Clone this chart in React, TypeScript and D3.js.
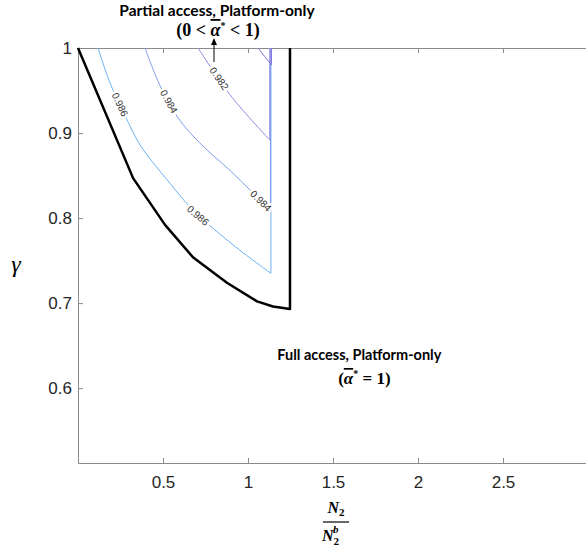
import { useEffect, useRef } from 'react';
import * as d3 from 'd3';

const W = 586;
const H = 554;

// boundary between partial access and full access regions
const boundaryX = [0, 0.324, 0.512, 0.676, 0.876, 1.053, 1.147, 1.247, 1.247];
const boundaryY = [1, 0.847, 0.792, 0.754, 0.724, 0.702, 0.696, 0.693, 1];

// contour levels inside the partial access region (curved part; each closes up to gamma = 1)
const levels = ['0.986', '0.984', '0.982', '0.980'];
const levelColors = ['#6db3f2', '#7f9cf0', '#8f8ae6', '#8b74d8'];
const contourX = [
  [0.118, 0.188, 0.276, 0.365, 0.524, 0.7, 0.794, 0.953, 1.135],
  [0.394, 0.482, 0.588, 0.718, 0.894, 1.012, 1.132],
  [0.706, 0.906, 1.128],
  [1.059, 1.138],
];
const contourY = [
  [1, 0.959, 0.921, 0.886, 0.845, 0.804, 0.788, 0.762, 0.735],
  [1, 0.956, 0.918, 0.888, 0.856, 0.833, 0.809],
  [1, 0.942, 0.892],
  [1, 0.98],
];

// inline contour labels
const labelLevel = [0, 1, 2, 0, 1];
const labelX = [0.247, 0.535, 0.83, 0.706, 1.076];

const xTicks = [0.5, 1, 1.5, 2, 2.5];
const yTicks = [0.6, 0.7, 0.8, 0.9, 1];

const App = () => {
  const svgRef = useRef<SVGSVGElement>(null);

  useEffect(() => {
    const svg = d3.select(svgRef.current);
    svg.selectAll('*').remove();

    const margin = { top: 48, left: 78, bottom: 91 };
    const x = d3.scaleLinear().domain([0, 3]).range([margin.left, 588]);
    const y = d3.scaleLinear().domain([0.512, 1]).range([H - margin.bottom, margin.top]);

    const axisColor = '#8a8a8a';
    const tickFont = '"Liberation Sans", Arial, sans-serif';

    // axes (ticks pointing inward like MATLAB)
    const gx = svg
      .append('g')
      .attr('transform', `translate(0,${y(0.512)})`)
      .call(
        d3.axisBottom(x).tickValues(xTicks).tickFormat((d) => String(d)).tickSizeInner(-5).tickSizeOuter(0).tickPadding(13)
      );
    const gxTop = svg
      .append('g')
      .attr('transform', `translate(0,${y(1)})`)
      .call(d3.axisTop(x).tickValues(xTicks).tickFormat(() => '').tickSizeInner(-5).tickSizeOuter(0));
    const gy = svg
      .append('g')
      .attr('transform', `translate(${x(0)},0)`)
      .call(d3.axisLeft(y).tickValues(yTicks).tickFormat((d) => String(d)).tickSizeInner(-5).tickSizeOuter(0).tickPadding(6));

    [gx, gxTop, gy].forEach((g) => {
      g.select('.domain').attr('stroke', axisColor);
      g.selectAll('.tick line').attr('stroke', axisColor);
      g.selectAll('.tick text').attr('fill', '#262626').style('font-family', tickFont).style('font-size', '17px');
    });

    const line = d3
      .line<[number, number]>()
      .x((d) => x(d[0]))
      .y((d) => y(d[1]));
    const smooth = d3
      .line<[number, number]>()
      .x((d) => x(d[0]))
      .y((d) => y(d[1]))
      .curve(d3.curveCatmullRom.alpha(0.5));

    // contour lines: smooth curve, then straight up the right edge to gamma = 1
    contourX.forEach((xs, i) => {
      const pts = xs.map((v, j) => [v, contourY[i][j]] as [number, number]);
      const last = pts[pts.length - 1];
      svg
        .append('path')
        .attr('d', `${smooth(pts)}L${x(last[0])},${y(1)}`)
        .attr('fill', 'none')
        .attr('stroke', levelColors[i])
        .attr('stroke-width', 1);
    });

    // contour labels, rotated along the line
    labelX.forEach((lx, k) => {
      const i = labelLevel[k];
      const xs = contourX[i];
      const ys = contourY[i];
      let j = 0;
      while (j < xs.length - 2 && xs[j + 1] < lx) j++;
      const t = (lx - xs[j]) / (xs[j + 1] - xs[j]);
      const ly = ys[j] + t * (ys[j + 1] - ys[j]);
      const ang = (Math.atan2(y(ys[j + 1]) - y(ys[j]), x(xs[j + 1]) - x(xs[j])) * 180) / Math.PI;
      svg
        .append('text')
        .attr('transform', `translate(${x(lx)},${y(ly)}) rotate(${ang})`)
        .attr('text-anchor', 'middle')
        .attr('dy', '0.35em')
        .style('font-family', tickFont)
        .style('font-size', '10px')
        .attr('fill', '#333')
        .attr('stroke', '#fff')
        .attr('stroke-width', 5)
        .attr('paint-order', 'stroke')
        .text(levels[i]);
    });

    // region boundary
    svg
      .append('path')
      .attr('d', line(boundaryX.map((v, j) => [v, boundaryY[j]] as [number, number])))
      .attr('fill', 'none')
      .attr('stroke', '#000')
      .attr('stroke-width', 2.5)
      .attr('stroke-linejoin', 'round');

    const annFont = 'Lato, "Open Sans", sans-serif';
    const mathFont = '"Liberation Serif", "DejaVu Serif", serif';

    // top annotation
    const ax = x(0.8);
    svg
      .append('text')
      .attr('x', ax + 3)
      .attr('y', 16)
      .attr('text-anchor', 'middle')
      .style('font-family', annFont)
      .style('font-weight', 'bold')
      .style('font-size', '15.5px')
      .text('Partial access, Platform-only');
    const t2 = svg
      .append('text')
      .attr('x', ax + 4)
      .attr('y', 36)
      .attr('text-anchor', 'middle')
      .style('font-family', mathFont)
      .style('font-weight', 'bold')
      .style('font-size', '18px');
    t2.append('tspan').text('(0 < ');
    t2.append('tspan').style('font-style', 'italic').style('text-decoration', 'overline').text('α');
    t2.append('tspan').attr('dy', -7).style('font-size', '10px').text('*');
    t2.append('tspan').attr('dy', 7).text(' < 1)');

    svg
      .append('line')
      .attr('x1', ax)
      .attr('x2', ax)
      .attr('y1', y(1) + 14)
      .attr('y2', y(1) - 4)
      .attr('stroke', '#000')
      .attr('stroke-width', 1);
    svg
      .append('path')
      .attr('d', `M${ax - 3},${y(1) - 3}L${ax},${y(1) - 10}L${ax + 3},${y(1) - 3}Z`)
      .attr('fill', '#000');

    // bottom annotation
    const bx = x(1.655);
    svg
      .append('text')
      .attr('x', bx)
      .attr('y', 360)
      .attr('text-anchor', 'middle')
      .style('font-family', annFont)
      .style('font-weight', 'bold')
      .style('font-size', '14.5px')
      .text('Full access, Platform-only');
    const t3 = svg
      .append('text')
      .attr('x', bx + 5)
      .attr('y', 384)
      .attr('text-anchor', 'middle')
      .style('font-family', mathFont)
      .style('font-weight', 'bold')
      .style('font-size', '17px');
    t3.append('tspan').text('(');
    t3.append('tspan').style('font-style', 'italic').style('text-decoration', 'overline').text('α');
    t3.append('tspan').attr('dy', -7).style('font-size', '10px').text('*');
    t3.append('tspan').attr('dy', 7).text(' = 1)');

    // y label
    svg
      .append('text')
      .attr('x', 16)
      .attr('y', 272)
      .attr('text-anchor', 'middle')
      .style('font-family', mathFont)
      .style('font-style', 'italic')
      .style('font-size', '24px')
      .text('γ');

    // x label: N2 / N2^b
    const fx = x(1.5) + 3;
    const num = svg
      .append('text')
      .attr('x', fx)
      .attr('y', 513)
      .attr('text-anchor', 'middle')
      .style('font-family', mathFont)
      .style('font-weight', 'bold')
      .style('font-size', '16px');
    num.append('tspan').style('font-style', 'italic').text('N');
    num.append('tspan').attr('dy', 3).style('font-size', '11px').text('2');
    svg
      .append('line')
      .attr('x1', fx - 13)
      .attr('x2', fx + 13)
      .attr('y1', 522)
      .attr('y2', 522)
      .attr('stroke', '#000')
      .attr('stroke-width', 1.2);
    const den = svg
      .append('text')
      .attr('x', fx - 6)
      .attr('y', 541)
      .style('font-family', mathFont)
      .style('font-weight', 'bold')
      .style('font-size', '16px')
      .attr('text-anchor', 'start');
    den.append('tspan').attr('dx', -8).style('font-style', 'italic').text('N');
    den.append('tspan').attr('dy', 4).style('font-size', '11px').text('2');
    den.append('tspan').attr('dx', -6).attr('dy', -12).style('font-size', '11px').style('font-style', 'italic').text('b');
  }, []);

  return (
    <svg
      ref={svgRef}
      width={W}
      height={H}
      style={{ position: 'absolute', left: 0, top: 0, background: '#fff' }}
    ></svg>
  );
};

export default App;
